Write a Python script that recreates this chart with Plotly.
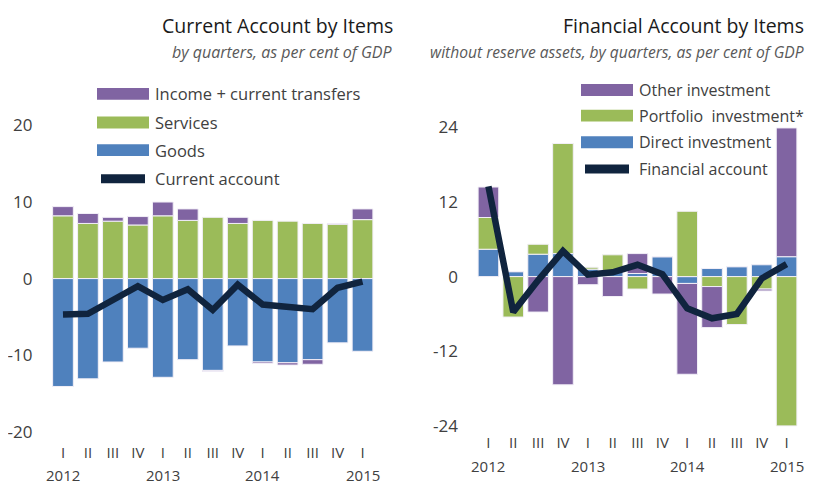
import plotly.graph_objects as go

QUARTERS = ["I", "II", "III", "IV", "I", "II", "III", "IV", "I", "II", "III", "IV", "I"]
YEARS = ["2012", "2012", "2012", "2012", "2013", "2013", "2013", "2013",
         "2014", "2014", "2014", "2014", "2015"]

# current account, % of GDP
goods = [-14.1, -13.1, -10.9, -9.1, -12.9, -10.6, -12.0, -8.8, -10.9, -11.0, -10.6, -8.4, -9.5]
services = [8.2, 7.2, 7.5, 7.0, 8.2, 7.6, 8.0, 7.2, 7.6, 7.5, 7.2, 7.1, 7.7]
income = [1.2, 1.3, 0.5, 1.1, 1.8, 1.5, -0.15, 0.8, -0.2, -0.3, -0.6, 0.1, 1.4]
current_account = [-4.7, -4.6, -2.8, -1.0, -2.8, -1.4, -4.1, -0.8, -3.4, -3.7, -4.0, -1.2, -0.4]

# financial account without reserve assets, % of GDP
direct = [4.4, 0.8, 3.6, 3.7, 1.2, 0.8, 0.5, 3.2, -1.1, 1.3, 1.6, 1.9, 3.2]
portfolio = [5.1, -6.5, 1.6, 17.7, 0.3, 2.7, -2.0, 0.0, 10.5, -1.6, -7.7, -2.0, -24.0]
other = [4.9, 0.0, -5.7, -17.4, -1.3, -3.2, 3.2, -2.8, -14.6, -6.6, 0.0, -0.3, 20.7]
financial_account = [14.5, -5.7, -0.6, 4.1, 0.3, 0.7, 1.9, 0.4, -5.1, -6.7, -6.0, -0.3, 2.0]

CA_TICKS = [20, 10, 0, -10, -20]
FA_TICKS = [24, 12, 0, -12, -24]

PURPLE = "#8064a2"
GREEN = "#9bbb59"
BLUE = "#4f81bd"
NAVY = "#10243e"
FONT = "Open Sans, Noto Sans, sans-serif"

# the page body keeps its default 8px margin, so the figure sits at (8, 8)
OFFSET = 8
W, H = 821 - OFFSET, 485 - OFFSET
categories = [f"{y} {q}" for y, q in zip(YEARS, QUARTERS)]


def px(x):
    return (x - OFFSET) / W


def py(y):
    return 1 - (y - OFFSET) / H


fig = go.Figure()

bar_style = {"line": {"color": "#f2eff7", "width": 1}}
line_style = {"color": NAVY, "width": 6.5, "shape": "linear"}
for values, color in [(goods, BLUE), (services, GREEN), (income, PURPLE)]:
    fig.add_trace(go.Bar(x=categories, y=values, xaxis="x", yaxis="y",
                         marker={"color": color, **bar_style}, showlegend=False))
fig.add_trace(go.Scatter(x=categories, y=current_account, xaxis="x", yaxis="y",
                         mode="lines", line=line_style, showlegend=False))

for values, color in [(direct, BLUE), (portfolio, GREEN), (other, PURPLE)]:
    fig.add_trace(go.Bar(x=categories, y=values, xaxis="x2", yaxis="y2",
                         marker={"color": color, **bar_style}, showlegend=False))
fig.add_trace(go.Scatter(x=categories, y=financial_account, xaxis="x2", yaxis="y2",
                         mode="lines", line=line_style, showlegend=False))

axis_common = dict(showgrid=False, zeroline=False, showline=False, ticks="")
y_font = {"size": 17, "color": "#404040", "family": FONT}
x_font = {"size": 15, "color": "#404040", "family": FONT}
fig.update_layout(
    width=W, height=H,
    margin={"l": 0, "r": 0, "t": 0, "b": 0},
    paper_bgcolor="white", plot_bgcolor="white",
    barmode="relative", bargap=0.17,
    font={"family": FONT, "color": "#404040"},
    xaxis=dict(domain=[px(50.5), px(375)], anchor="y", type="category",
               tickvals=categories, ticktext=QUARTERS, range=[-0.5, 12.5],
               ticklabelstandoff=4, tickfont=x_font, **axis_common),
    yaxis=dict(domain=[py(443), py(110)], anchor="x", range=[-20.77, 22.19],
               tickvals=CA_TICKS, ticktext=[str(t) for t in CA_TICKS],
               ticklabelstandoff=17, tickfont=y_font, **axis_common),
    xaxis2=dict(domain=[px(476), px(799)], anchor="y2", type="category",
                tickvals=categories, ticktext=QUARTERS, range=[-0.5, 12.5],
                ticklabelstandoff=1, tickfont=x_font, **axis_common),
    yaxis2=dict(domain=[py(436), py(110)], anchor="x2", range=[-24.76, 26.99],
                tickvals=FA_TICKS, ticktext=[str(t) for t in FA_TICKS],
                ticklabelstandoff=17, tickfont=y_font, **axis_common),
)

annotations = []
shapes = []

# titles
for x_right, title, subtitle, sub_size in [
    (395, "Current Account by Items", "by quarters, as per cent of GDP", 16),
    (806, "Financial Account by Items",
     "without reserve assets, by quarters, as per cent of GDP", 15.6),
]:
    annotations.append(dict(text=title, x=px(x_right), y=py(26), xref="paper", yref="paper",
                            xanchor="right", yanchor="middle", showarrow=False,
                            font={"size": 19.5, "color": "#1a1a1a", "family": FONT}))
    annotations.append(dict(text=f"<i>{subtitle}</i>", x=px(x_right), y=py(53), xref="paper",
                            yref="paper", xanchor="right", yanchor="middle", showarrow=False,
                            font={"size": sub_size, "color": "#595959", "family": FONT}))

# year labels under the first quarter of each year
for xname, ypix in [("x", 481), ("x2", 472)]:
    for i, (cat, q) in enumerate(zip(categories, QUARTERS)):
        if q == "I":
            annotations.append(dict(text=YEARS[i], x=cat, y=py(ypix), xref=xname, yref="paper",
                                    yanchor="middle", showarrow=False,
                                    font={"size": 15, "color": "#404040", "family": FONT}))

# hand-made legends (wide swatches like the original)
legends = [
    (97, 16.5, [95, 124, 152, 181], [("Income + current transfers", PURPLE, "bar"),
                                     ("Services", GREEN, "bar"),
                                     ("Goods", BLUE, "bar"),
                                     ("Current account", NAVY, "line")]),
    (581, 16, [91, 117, 144, 171], [("Other investment", PURPLE, "bar"),
                                    ("Portfolio  investment*", GREEN, "bar"),
                                    ("Direct investment", BLUE, "bar"),
                                    ("Financial account", NAVY, "line")]),
]
for x0, size, rows, items in legends:
    for ypix, (label, color, kind) in zip(rows, items):
        if kind == "bar":
            shapes.append(dict(type="rect", xref="paper", yref="paper",
                               x0=px(x0), x1=px(x0 + 52), y0=py(ypix + 6), y1=py(ypix - 6),
                               fillcolor=color, line={"width": 0}))
        else:
            shapes.append(dict(type="line", xref="paper", yref="paper",
                               x0=px(x0 + 4), x1=px(x0 + 48), y0=py(ypix), y1=py(ypix),
                               line={"color": color, "width": 9}))
        annotations.append(dict(text=label, x=px(x0 + 56), y=py(ypix), xref="paper", yref="paper",
                                xanchor="left", yanchor="middle", showarrow=False,
                                font={"size": size, "color": "#404040", "family": FONT}))

fig.update_layout(annotations=annotations, shapes=shapes)
fig.write_html("out.html")
